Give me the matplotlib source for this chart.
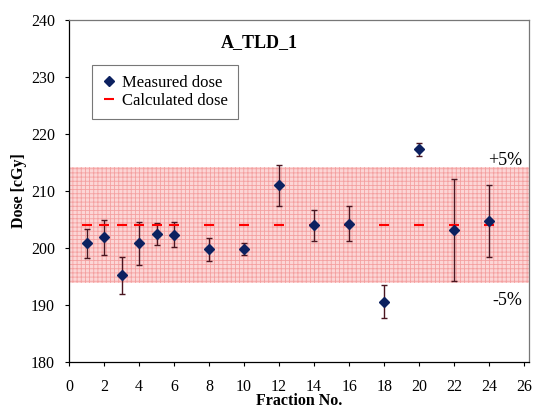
import matplotlib
matplotlib.use("Agg")
import matplotlib.pyplot as plt
import numpy as np

fraction = [1, 2, 3, 4, 5, 6, 8, 10, 12, 14, 16, 18, 20, 22, 24]
measured = [200.8, 201.9, 195.2, 200.8, 202.5, 202.3, 199.8, 199.8, 211.0, 204.0, 204.3, 190.6, 217.3, 203.2, 204.7]
err = [2.6, 3.1, 3.2, 3.7, 1.9, 2.2, 2.0, 1.0, 3.6, 2.7, 3.0, 2.9, 1.2, 8.9, 6.3]
calculated = [204.0] * len(fraction)
calc_ref = 204.0
tol = 0.05

plt.rcParams['font.family'] = ['Liberation Serif', 'DejaVu Serif']
plt.rcParams['hatch.linewidth'] = 0.6

fig = plt.figure(figsize=(5.34, 4.11), dpi=100)
ax = fig.add_axes([0.1292, 0.1192, 0.8614, 0.832])

ax.axhspan(calc_ref * (1 - tol), calc_ref * (1 + tol), facecolor='#fcd6d6', edgecolor='#f4a0a0',
           hatch='++++', linewidth=0, zorder=0)

ax.errorbar(fraction, measured, yerr=err, fmt='none', ecolor='#4a1520', elinewidth=1.0,
            capsize=2.5, capthick=1.0, zorder=2)
ax.plot(fraction, calculated, linestyle='none', marker='_', markersize=7, markeredgewidth=1.5,
        color='#ff0000', label='Calculated dose', zorder=3)
ax.plot(fraction, measured, linestyle='none', marker='D', markersize=5.5, color='#0c2160',
        markeredgecolor='#0c2160', label='Measured dose', zorder=4)

ax.set_xlim(0, 26.27)
ax.set_ylim(180, 240)
ax.set_xticks(np.arange(0, 27, 2))
ax.set_yticks(np.arange(180, 241, 10))
ax.tick_params(axis='x', direction='out', labelsize=11.5, length=3, width=0.8, pad=9)
ax.tick_params(axis='y', direction='out', labelsize=11.5, length=3, width=0.8, pad=7)
for s in ax.spines.values():
    s.set_linewidth(0.9)
ax.spines['top'].set_color('#777777')
ax.spines['right'].set_color('#777777')

ax.set_xlabel('Fraction No.', fontsize=11.5, fontweight='bold', labelpad=-1)
ax.set_ylabel('Dose [cGy]', fontsize=11.5, fontweight='bold', labelpad=3)

ax.text(0.413, 0.935, 'A_TLD_1', transform=ax.transAxes, ha='center', va='center',
        fontsize=13, fontweight='bold')
ax.text(0.985, 0.59, '+5%', transform=ax.transAxes, ha='right', va='center', fontsize=13)
ax.text(0.985, 0.18, '-5%', transform=ax.transAxes, ha='right', va='center', fontsize=13)

h, l = ax.get_legend_handles_labels()
leg = ax.legend([h[1], h[0]], [l[1], l[0]], loc='upper left', bbox_to_anchor=(0.05, 0.87),
                borderaxespad=0, fontsize=12, frameon=True, fancybox=False, edgecolor='#555555',
                handlelength=0.8, handletextpad=0.4, borderpad=0.6, labelspacing=0.15)
leg.get_frame().set_linewidth(0.8)

fig.savefig('out.png', dpi=100)
